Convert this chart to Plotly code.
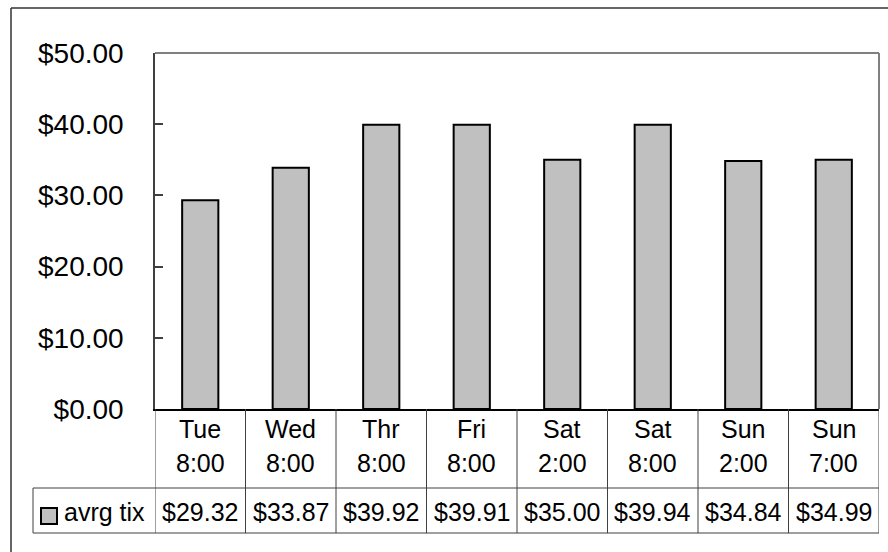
import plotly.graph_objects as go

# Average ticket price per performance slot
categories = ["Tue 8:00", "Wed 8:00", "Thr 8:00", "Fri 8:00",
              "Sat 2:00", "Sat 8:00", "Sun 2:00", "Sun 7:00"]
avrg_tix = [29.32, 33.87, 39.92, 39.91, 35.00, 39.94, 34.84, 34.99]
series_name = "avrg tix"
y_ticks = [0, 10, 20, 30, 40, 50]

W, H = 888, 552
FONT = "Liberation Sans, Arial, sans-serif"
BAR_FILL = "#C0C0C0"
GRID = "#404040"

# plot-area box in pixels
PL, PR, PT, PB = 155, 879, 53, 409
ROW1_BOTTOM, ROW2_BOTTOM = 488, 533
LEGEND_LEFT = 33


def px(x):
    return x / W


def py(y):
    return 1 - y / H


xs = list(range(len(categories)))

fig = go.Figure()
fig.add_trace(go.Bar(
    x=xs, y=avrg_tix, width=0.4, name=series_name,
    marker=dict(color=BAR_FILL, line=dict(color="black", width=2)),
    showlegend=False,
))

shapes = []
annotations = []

# outer chart border (top and left visible)
shapes.append(dict(type="line", xref="paper", yref="paper",
                   x0=px(11), x1=px(W + 5), y0=py(8), y1=py(8),
                   line=dict(color="#333333", width=1.5)))
shapes.append(dict(type="line", xref="paper", yref="paper",
                   x0=px(11), x1=px(11), y0=py(8), y1=py(H + 5),
                   line=dict(color="#333333", width=1.5)))

# plot-area frame: top and right edges
shapes.append(dict(type="line", xref="paper", yref="paper",
                   x0=px(PL), x1=px(PR), y0=py(PT), y1=py(PT),
                   line=dict(color="#808080", width=2)))
shapes.append(dict(type="line", xref="paper", yref="paper",
                   x0=px(PR), x1=px(PR), y0=py(PT), y1=py(PB),
                   line=dict(color="#808080", width=2)))

# data table grid
n = len(categories)
for i in range(n + 1):
    shapes.append(dict(type="line", xref="x", yref="paper",
                       x0=i - 0.5, x1=i - 0.5, y0=py(PB), y1=py(ROW2_BOTTOM),
                       line=dict(color=GRID, width=1)))
for yy in (ROW1_BOTTOM, ROW2_BOTTOM):
    shapes.append(dict(type="line", xref="paper", yref="paper",
                       x0=px(LEGEND_LEFT), x1=px(PR), y0=py(yy), y1=py(yy),
                       line=dict(color=GRID, width=1)))
shapes.append(dict(type="line", xref="paper", yref="paper",
                   x0=px(LEGEND_LEFT), x1=px(LEGEND_LEFT),
                   y0=py(ROW1_BOTTOM), y1=py(ROW2_BOTTOM),
                   line=dict(color=GRID, width=1)))

# legend key inside the table
shapes.append(dict(type="rect", xref="paper", yref="paper",
                   x0=px(41), x1=px(57), y0=py(508), y1=py(524),
                   fillcolor=BAR_FILL, line=dict(color="black", width=2)))
annotations.append(dict(text=series_name, xref="paper", yref="paper",
                        x=px(62), y=py(512), xanchor="left", yanchor="middle",
                        showarrow=False, font=dict(size=25, family=FONT, color="black")))

# category labels and values in the table
for i, (cat, val) in enumerate(zip(categories, avrg_tix)):
    day, time = cat.split(" ")
    for txt, yy in ((day, 429), (time, 463)):
        annotations.append(dict(text=txt, xref="x", yref="paper",
                                x=i, y=py(yy), xanchor="center", yanchor="middle",
                                showarrow=False,
                                font=dict(size=25, family=FONT, color="black")))
    annotations.append(dict(text=f"${val:,.2f}", xref="x", yref="paper",
                            x=i, y=py(512), xanchor="center", yanchor="middle",
                            showarrow=False,
                            font=dict(size=25, family=FONT, color="black")))

fig.update_layout(
    width=W, height=H,
    margin=dict(l=0, r=0, t=0, b=0, autoexpand=False),
    paper_bgcolor="white", plot_bgcolor="white",
    shapes=shapes, annotations=annotations,
    xaxis=dict(domain=[px(PL), px(PR)], range=[-0.5, n - 0.5],
               showticklabels=False, showgrid=False, zeroline=False,
               showline=True, linecolor="black", linewidth=2, ticks=""),
    yaxis=dict(domain=[py(PB), py(PT)], range=[0, 50],
               tickvals=y_ticks, ticktext=[f"${v:,.2f}" for v in y_ticks],
               ticks="inside", ticklen=8, tickwidth=1.5, tickcolor=GRID,
               showline=True, linecolor=GRID, linewidth=1.5,
               showgrid=False, zeroline=False,
               ticklabelstandoff=24,
               tickfont=dict(size=28, family=FONT, color="black")),
    bargap=0.6,
)

fig.write_html("out.html")
